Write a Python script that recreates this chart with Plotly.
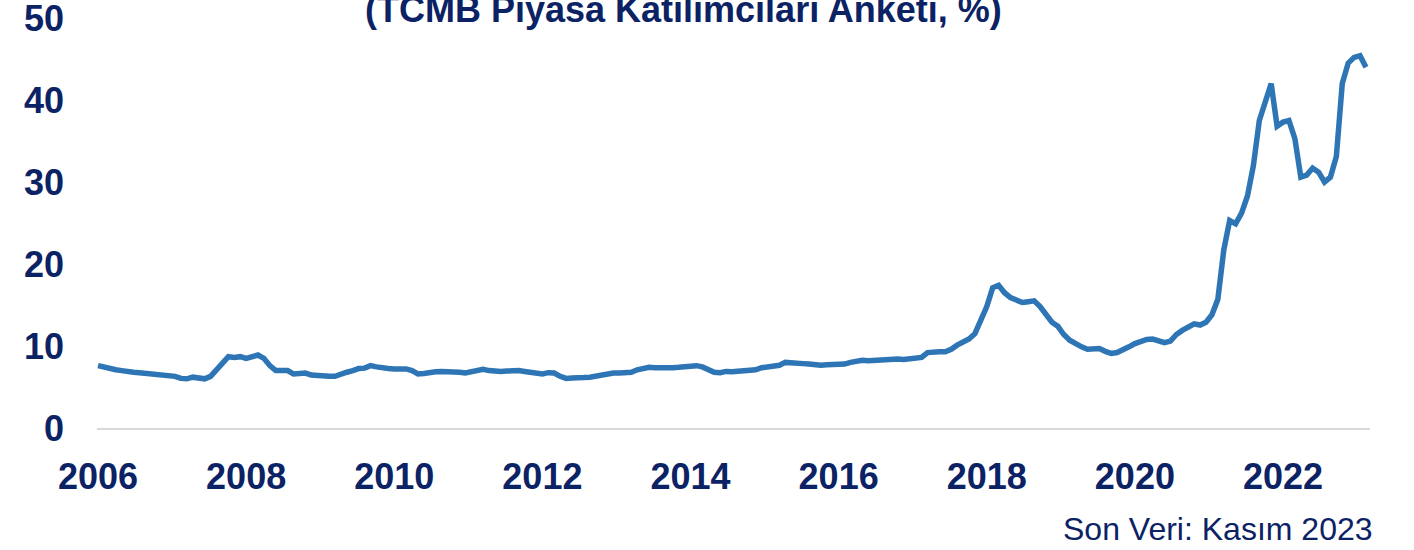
import plotly.graph_objects as go
import pandas as pd

# Monthly 12-month-ahead CPI expectation (%), Jan 2006 - Nov 2023
values = [
    7.6, 7.4, 7.2, 7.1, 7.0, 6.85, 6.8, 6.75, 6.7, 6.6, 6.55, 6.45,
    6.35, 6.3, 6.05, 6.0, 6.2, 6.1, 6.0, 6.3, 7.1, 7.9, 8.7, 8.6,
    8.7, 8.5, 8.7, 8.9, 8.5, 7.6, 7.0, 6.95, 7.0, 6.6, 6.65, 6.7,
    6.45, 6.35, 6.3, 6.3, 6.3, 6.6, 6.8, 7.0, 7.25, 7.3, 7.6, 7.45,
    7.3, 7.25, 7.2, 7.2, 7.2, 7.0, 6.6, 6.65, 6.8, 6.85, 6.9, 6.9,
    6.9, 6.8, 6.7, 6.85, 7.0, 7.15, 7.0, 6.9, 6.9, 6.95, 7.05, 7.0,
    6.9, 6.8, 6.65, 6.6, 6.75, 6.7, 6.3, 6.05, 6.1, 6.2, 6.15, 6.2,
    6.35, 6.5, 6.5, 6.7, 6.7, 6.8, 6.8, 7.1, 7.3, 7.4, 7.35, 7.3,
    7.3, 7.35, 7.4, 7.45, 7.55, 7.6, 7.45, 7.1, 6.8, 6.75, 6.9, 6.85,
    6.9, 7.05, 7.05, 7.1, 7.35, 7.45, 7.5, 7.65, 8.0, 8.0, 7.95, 7.85,
    7.8, 7.7, 7.65, 7.7, 7.7, 7.7, 7.8, 8.0, 8.15, 8.25, 8.2, 8.25,
    8.35, 8.4, 8.3, 8.4, 8.35, 8.4, 8.55, 8.6, 9.2, 9.3, 9.3, 9.3,
    9.6, 10.1, 10.4, 10.85, 11.5, 13.3, 14.8, 17.1, 17.4, 16.5, 15.9, 15.6,
    15.3, 15.4, 15.5, 14.8, 13.9, 12.9, 12.4, 11.4, 10.7, 10.2, 9.9, 9.6,
    9.6, 9.7, 9.35, 9.1, 9.2, 9.5, 9.9, 10.3, 10.6, 10.8, 10.85, 10.6,
    10.4, 10.6, 11.4, 11.9, 12.3, 12.7, 12.56, 12.9, 13.8, 15.7, 21.7, 25.3,
    24.9, 26.2, 28.3, 32.0, 37.5, 40.0, 42.0, 36.8, 37.3, 37.5, 35.3, 30.6,
    30.85, 31.7, 31.2, 30.0, 30.6, 33.1, 42.0, 44.5, 45.2, 45.4, 44.0,
]
months = [d.strftime("%Y-%m") for d in pd.date_range("2006-01-01", periods=len(values), freq="MS")]
tick_months = months[::25][:9]
tick_labels = ["2006", "2008", "2010", "2012", "2014", "2016", "2018", "2020", "2022"]
y_ticks = [0, 10, 20, 30, 40, 50]

title_text = "(TCMB Piyasa Katılımcıları Anketi, %)"
footer_text = "Son Veri: Kasım 2023"

NAVY = "#0b2265"
FONT = "Liberation Sans"

fig = go.Figure()
fig.add_trace(go.Scatter(
    x=months, y=values, mode="lines",
    line=dict(color="#2e75b6", width=5.5),
    showlegend=False, hoverinfo="skip",
))

fig.update_layout(
    width=1414, height=550,
    margin=dict(l=97, r=44, t=18, b=122),
    paper_bgcolor="white", plot_bgcolor="white",
    font=dict(family=FONT, color=NAVY),
    xaxis=dict(
        type="category", range=[-0.17, 214.68],
        tickvals=tick_months, ticktext=tick_labels,
        tickfont=dict(family=FONT, size=36, color=NAVY, weight="bold"),
        showgrid=False, zeroline=False,
        showline=True, linecolor="#d9d9d9", linewidth=2,
        ticks="", ticklabelstandoff=16, automargin=False,
        ticklabeloverflow="allow",
    ),
    yaxis=dict(
        range=[0, 50], tickvals=y_ticks,
        tickfont=dict(family=FONT, size=36, color=NAVY, weight="bold"),
        showgrid=False, zeroline=False, showline=False,
        ticks="", ticklabelstandoff=32, automargin=False,
        ticklabeloverflow="allow",
    ),
    annotations=[
        dict(text=title_text, xref="paper", yref="paper", x=(683 - 97) / 1273, y=1,
             xanchor="center", yanchor="bottom", yshift=-14, showarrow=False,
             font=dict(family=FONT, size=36, color=NAVY, weight="bold")),
        dict(text=footer_text, xref="paper", yref="paper", x=(1375 - 97) / 1273, y=0,
             xanchor="right", yanchor="bottom", yshift=-121, showarrow=False,
             font=dict(family=FONT, size=32, color=NAVY)),
    ],
)

fig.write_html(
    "out.html",
    config={"displayModeBar": False, "staticPlot": True},
    post_script="document.body.style.margin='0';document.body.style.overflow='hidden';",
)
